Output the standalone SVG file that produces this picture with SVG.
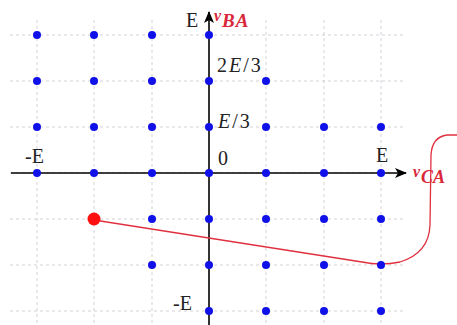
<svg xmlns="http://www.w3.org/2000/svg" width="457" height="325" viewBox="0 0 457 325">
<defs>
<style>
.grid{stroke:#c8c8d0;stroke-width:0.8;stroke-dasharray:3 3;fill:none}
.axis{stroke:#000;stroke-width:1.6;fill:none}
.dot{fill:#1010e8}
.lbl{font-family:"Liberation Serif","DejaVu Serif",serif;font-size:20px;fill:#222}
.it{font-style:italic}
.red{fill:#d8283a;font-family:"Liberation Serif","DejaVu Serif",serif;font-style:italic;font-weight:bold}
</style>
<marker id="ah" viewBox="0 0 12 10" refX="11" refY="5" markerWidth="12" markerHeight="10" markerUnits="userSpaceOnUse" orient="auto">
<path d="M0,0 L12,5 L0,10 L3,5 Z" fill="#000"/>
</marker>
</defs>
<rect width="457" height="325" fill="#fff"/>
<g id="grid">
<path class="grid" d="M10,35H405M10,81H405M10,127H405M10,173H405M10,219H405M10,265H405M10,311H405"/>
<path class="grid" d="M37,20V325M94,20V325M152,20V325M266,20V325M324,20V325M381,20V325"/>
</g>
<g id="connectors">
<line class="axis" x1="11" y1="173" x2="406" y2="173" marker-end="url(#ah)"/>
<line class="axis" x1="209" y1="325" x2="209" y2="12" marker-end="url(#ah)"/>
<path d="M94,220 L362,262 Q381,266 400,262 Q429,253 430,225 L431,155 Q432,137 447,135 L457,135" fill="none" stroke="#e03040" stroke-width="1.3"/>
</g>
<g id="dots">
<circle class="dot" cx="37" cy="35" r="4"/><circle class="dot" cx="94" cy="35" r="4"/><circle class="dot" cx="152" cy="35" r="4"/><circle class="dot" cx="209" cy="35" r="4"/>
<circle class="dot" cx="37" cy="81" r="4"/><circle class="dot" cx="94" cy="81" r="4"/><circle class="dot" cx="152" cy="81" r="4"/><circle class="dot" cx="209" cy="81" r="4"/><circle class="dot" cx="266" cy="81" r="4"/>
<circle class="dot" cx="37" cy="127" r="4"/><circle class="dot" cx="94" cy="127" r="4"/><circle class="dot" cx="152" cy="127" r="4"/><circle class="dot" cx="209" cy="127" r="4"/><circle class="dot" cx="266" cy="127" r="4"/><circle class="dot" cx="324" cy="127" r="4"/><circle class="dot" cx="381" cy="127" r="4"/>
<circle class="dot" cx="37" cy="173" r="4"/><circle class="dot" cx="94" cy="173" r="4"/><circle class="dot" cx="152" cy="173" r="4"/><circle class="dot" cx="209" cy="173" r="4"/><circle class="dot" cx="266" cy="173" r="4"/><circle class="dot" cx="324" cy="173" r="4"/><circle class="dot" cx="381" cy="173" r="4"/>
<circle class="dot" cx="152" cy="219" r="4"/><circle class="dot" cx="209" cy="219" r="4"/><circle class="dot" cx="266" cy="219" r="4"/><circle class="dot" cx="324" cy="219" r="4"/><circle class="dot" cx="381" cy="219" r="4"/>
<circle class="dot" cx="152" cy="265" r="4"/><circle class="dot" cx="209" cy="265" r="4"/><circle class="dot" cx="266" cy="265" r="4"/><circle class="dot" cx="324" cy="265" r="4"/><circle class="dot" cx="381" cy="265" r="4"/>
<circle class="dot" cx="209" cy="311" r="4"/><circle class="dot" cx="266" cy="311" r="4"/><circle class="dot" cx="324" cy="311" r="4"/><circle class="dot" cx="381" cy="311" r="4"/>
<circle cx="94" cy="219" r="6.5" fill="#ff1010"/>
</g>
<g id="labels">
<text class="lbl" x="186" y="27">E</text>
<text class="lbl" x="25" y="163">-E</text>
<text class="lbl" x="376" y="162">E</text>
<text class="lbl" x="173" y="310">-E</text>
<text class="lbl" x="218" y="165">0</text>
<text class="lbl" x="217" y="72" letter-spacing="2">2<tspan class="it">E</tspan>/3</text>
<text class="lbl" x="218" y="128" letter-spacing="2"><tspan class="it">E</tspan>/3</text>
<text class="red" x="214" y="21" font-size="16">v</text>
<text class="red" x="222" y="27" font-size="19" letter-spacing="1">BA</text>
<text class="red" x="413" y="177" font-size="16">v</text>
<text class="red" x="421" y="183" font-size="18">CA</text>
</g>
</svg>
